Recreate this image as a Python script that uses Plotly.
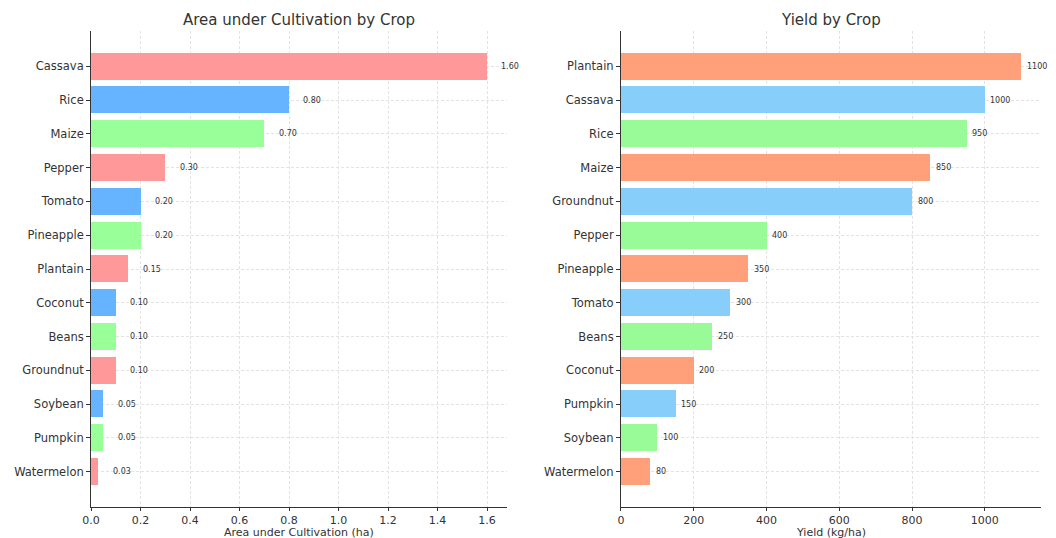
import plotly.graph_objects as go

# Area under cultivation (ha), listed top to bottom
area_crops = ["Cassava", "Rice", "Maize", "Pepper", "Tomato", "Pineapple", "Plantain",
              "Coconut", "Beans", "Groundnut", "Soybean", "Pumpkin", "Watermelon"]
area_values = [1.60, 0.80, 0.70, 0.30, 0.20, 0.20, 0.15, 0.10, 0.10, 0.10, 0.05, 0.05, 0.03]

# Yield (kg/ha), listed top to bottom
yield_crops = ["Plantain", "Cassava", "Rice", "Maize", "Groundnut", "Pepper", "Pineapple",
               "Tomato", "Beans", "Coconut", "Pumpkin", "Soybean", "Watermelon"]
yield_values = [1100, 1000, 950, 850, 800, 400, 350, 300, 250, 200, 150, 100, 80]

area_palette = ["#ff9999", "#66b3ff", "#99ff99"]
yield_palette = ["#ffa07a", "#87cefa", "#98fb98"]

FONT = "DejaVu Sans"
TXT = "#333333"
H = 538
n = len(area_crops)

fig = go.Figure()

fig.add_trace(go.Bar(
    y=list(range(n)), x=area_values, orientation="h", width=0.8,
    marker=dict(color=[area_palette[i % 3] for i in range(n)], line=dict(width=0)),
    xaxis="x", yaxis="y", showlegend=False, hoverinfo="skip",
))
fig.add_trace(go.Bar(
    y=list(range(n)), x=yield_values, orientation="h", width=0.8,
    marker=dict(color=[yield_palette[i % 3] for i in range(n)], line=dict(width=0)),
    xaxis="x2", yaxis="y2", showlegend=False, hoverinfo="skip",
))

annotations = []
for i, v in enumerate(area_values):
    annotations.append(dict(x=v + 0.05, y=i, xref="x", yref="y", text=f"{v:.2f}",
                            showarrow=False, xanchor="left", yanchor="middle",
                            font=dict(family=FONT, size=8, color=TXT)))
for i, v in enumerate(yield_values):
    annotations.append(dict(x=v + 10, y=i, xref="x2", yref="y2", text=f"{v}",
                            showarrow=False, xanchor="left", yanchor="middle",
                            font=dict(family=FONT, size=8, color=TXT)))


def label(text, x, y_px, size):
    return dict(x=x, y=1 - y_px / H, xref="paper", yref="paper", text=text,
                showarrow=False, xanchor="center", yanchor="middle",
                font=dict(family=FONT, size=size, color=TXT))


# Subplot titles and axis titles
annotations += [
    label("Area under Cultivation by Crop", 0.283, 20, 15),
    label("Yield by Crop", 0.787, 20, 15),
    label("Area under Cultivation (ha)", 0.283, 532.5, 11),
    label("Yield (kg/ha)", 0.787, 532.5, 11),
]

ydom = [0.058, 0.942]
common_x = dict(showline=True, linecolor=TXT, linewidth=1, ticks="outside", ticklen=3,
                tickcolor=TXT, showgrid=True, gridcolor="#e3e3e3", griddash="3px,2px",
                gridwidth=1, zeroline=False, automargin=False,
                tickfont=dict(family=FONT, size=11, color=TXT))
common_y = dict(showline=True, linecolor=TXT, linewidth=1, ticks="outside", ticklen=4,
                tickcolor=TXT, showgrid=True, gridcolor="#e3e3e3", griddash="3px,2px",
                gridwidth=1, zeroline=False, automargin=False, autorange=False,
                range=[n - 1 + 1.04, -1.04],
                tickmode="array", tickvals=list(range(n)),
                tickfont=dict(family=FONT, size=11.5, color=TXT), domain=ydom)

fig.update_layout(
    width=1056, height=H,
    margin=dict(l=0, r=0, t=0, b=0),
    paper_bgcolor="white", plot_bgcolor="white",
    font=dict(family=FONT, color=TXT),
    bargap=0,
    xaxis=dict(common_x, domain=[0.0862, 0.480], range=[0, 1.68],
               tickvals=[0, 0.2, 0.4, 0.6, 0.8, 1.0, 1.2, 1.4, 1.6], tickformat=".1f",
               anchor="y"),
    yaxis=dict(common_y, ticktext=area_crops, anchor="x"),
    xaxis2=dict(common_x, domain=[0.588, 0.986], range=[0, 1155],
                tickvals=[0, 200, 400, 600, 800, 1000], anchor="y2"),
    yaxis2=dict(common_y, ticktext=yield_crops, anchor="x2"),
    annotations=annotations,
)

fig.write_html("out.html")
